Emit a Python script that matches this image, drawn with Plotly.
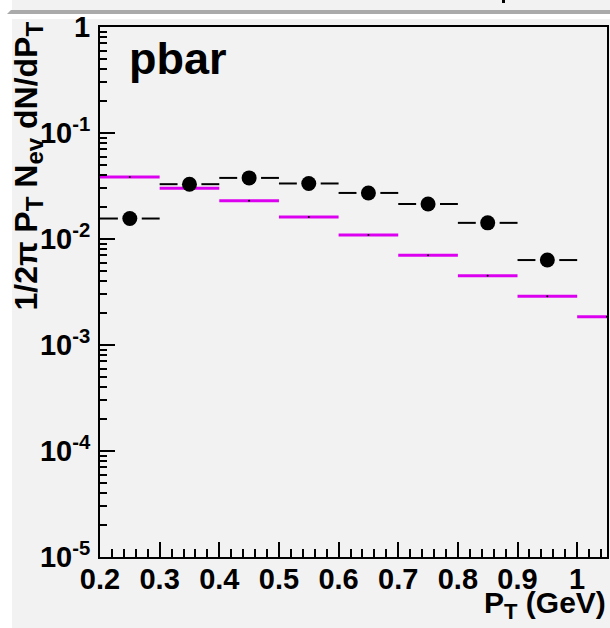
import plotly.graph_objects as go

# ---- data ----
bin_centers = [0.25, 0.35, 0.45, 0.55, 0.65, 0.75, 0.85, 0.95]
data_values = [0.0156, 0.0329, 0.0377, 0.0334, 0.0272, 0.0214, 0.0142, 0.00633]

model_centers = [0.25, 0.35, 0.45, 0.55, 0.65, 0.75, 0.85, 0.95, 1.05]
model_values = [0.0385, 0.0301, 0.0229, 0.0161, 0.01088, 0.00701, 0.00450, 0.00288, 0.00185]

bin_half_width = 0.05

x_tick_vals = [0.2, 0.3, 0.4, 0.5, 0.6, 0.7, 0.8, 0.9, 1.0]
x_tick_text = ["0.2", "0.3", "0.4", "0.5", "0.6", "0.7", "0.8", "0.9", "1"]
y_tick_vals = [1e-5, 1e-4, 1e-3, 1e-2, 1e-1, 1]
y_tick_text = ["10<sup>-5</sup>", "10<sup>-4</sup>", "10<sup>-3</sup>",
               "10<sup>-2</sup>", "10<sup>-1</sup>", "1"]

# ---- styling ----
W, H = 610, 628
L, R, T, B = 100, 3, 27, 71
FONT = "Liberation Sans, Arial, Helvetica, sans-serif"
MAGENTA = "#dc00f0"
BG = "#f2f2f2"

def px_x(p):
    return (p - L) / (W - L - R)

def px_y(p):
    return (H - B - p) / (H - T - B)

fig = go.Figure()

# model histogram (magenta horizontal bin lines)
fig.add_trace(go.Scatter(
    x=model_centers, y=model_values, mode="markers",
    marker=dict(size=2, color="black"),
    error_x=dict(type="constant", value=bin_half_width, width=0,
                 thickness=3, color=MAGENTA),
    showlegend=False, hoverinfo="skip"))

# data horizontal error bars with a gap around the marker
gap = 0.02
seg_x, seg_y = [], []
for c, v in zip(bin_centers, data_values):
    seg_x += [c - bin_half_width, c - gap, None, c + gap, c + bin_half_width, None]
    seg_y += [v, v, None, v, v, None]
fig.add_trace(go.Scatter(x=seg_x, y=seg_y, mode="lines",
                         line=dict(color="black", width=2),
                         showlegend=False, hoverinfo="skip"))

# data points
fig.add_trace(go.Scatter(x=bin_centers, y=data_values, mode="markers",
                         marker=dict(size=15, color="black", symbol="circle"),
                         showlegend=False))

x_minor = [round(0.2 + 0.02 * i, 2) for i in range(0, 43) if i % 5 != 0]
y_minor = []
for e in range(-5, 0):
    for k in range(2, 10):
        y_minor.append(k * 10 ** e)

axis_common = dict(showline=True, linecolor="black", linewidth=2, mirror=True,
                   ticks="inside", tickcolor="black", tickwidth=2, ticklen=15,
                   showgrid=False, zeroline=False, automargin=False,
                   tickfont=dict(family=FONT, size=29, color="black", weight="bold"))

fig.update_xaxes(range=[0.2, 1.05], tickmode="array", tickvals=x_tick_vals,
                 ticktext=x_tick_text, ticklabelstandoff=-5,
                 minor=dict(tickmode="array", tickvals=x_minor, ticks="inside",
                            ticklen=8, tickwidth=2, tickcolor="black", showgrid=False),
                 **axis_common)
fig.update_yaxes(type="log", range=[-5, 0], tickmode="array", tickvals=y_tick_vals,
                 ticktext=y_tick_text, ticklabelstandoff=2,
                 minor=dict(tickmode="array", tickvals=y_minor, ticks="inside",
                            ticklen=7, tickwidth=2, tickcolor="black", showgrid=False),
                 **axis_common)

shapes = [
    dict(type="rect", xref="paper", yref="paper", layer="below",
         x0=px_x(12), x1=px_x(W + 2), y0=px_y(19), y1=px_y(H + 2),
         fillcolor=BG, line=dict(width=0)),
    dict(type="rect", xref="paper", yref="paper", layer="below",
         x0=px_x(12), x1=px_x(W + 2), y0=px_y(-2), y1=px_y(10),
         fillcolor=BG, line=dict(width=0)),
    dict(type="path", xref="paper", yref="paper", layer="below",
         path=f"M {px_x(7)},{px_y(14)} L {px_x(11)},{px_y(10)} L {px_x(W + 2)},{px_y(10)} "
              f"L {px_x(W + 2)},{px_y(14)} Z",
         fillcolor="#aaaaaa", line=dict(width=0)),
    dict(type="rect", xref="paper", yref="paper", layer="below",
         x0=px_x(502), x1=px_x(505), y0=px_y(3), y1=px_y(-2),
         fillcolor="black", line=dict(width=0)),
]

SUB = '<sub><span style="font-size:{s}px">{t}</span></sub>'
ytitle = ("1/2π P" + SUB.format(s=24, t="T") + " N" + SUB.format(s=24, t="ev")
          + " dN/dP" + SUB.format(s=24, t="T"))

annotations = [
    dict(text="pbar", xref="paper", yref="paper", x=px_x(127), y=px_y(59),
         xanchor="left", yanchor="middle", showarrow=False,
         font=dict(family=FONT, size=45, color="black", weight="bold")),
    dict(text="P" + SUB.format(s=22, t="T") + " (GeV)", xref="paper", yref="paper",
         x=px_x(608), y=px_y(584), xanchor="right", yanchor="top", showarrow=False,
         font=dict(family=FONT, size=30, color="black", weight="bold")),
    dict(text=ytitle, xref="paper", yref="paper",
         x=px_x(28), y=px_y(20), xanchor="center", yanchor="top", textangle=-90,
         showarrow=False,
         font=dict(family=FONT, size=32, color="black", weight="bold")),
]

fig.update_layout(width=W, height=H, margin=dict(l=L, r=R, t=T, b=B, pad=0),
                  paper_bgcolor="white", plot_bgcolor=BG,
                  shapes=shapes, annotations=annotations, showlegend=False)

fig.write_html("out.html", config={"displayModeBar": False},
               post_script="document.body.style.margin='0';document.body.style.overflow='hidden';")
